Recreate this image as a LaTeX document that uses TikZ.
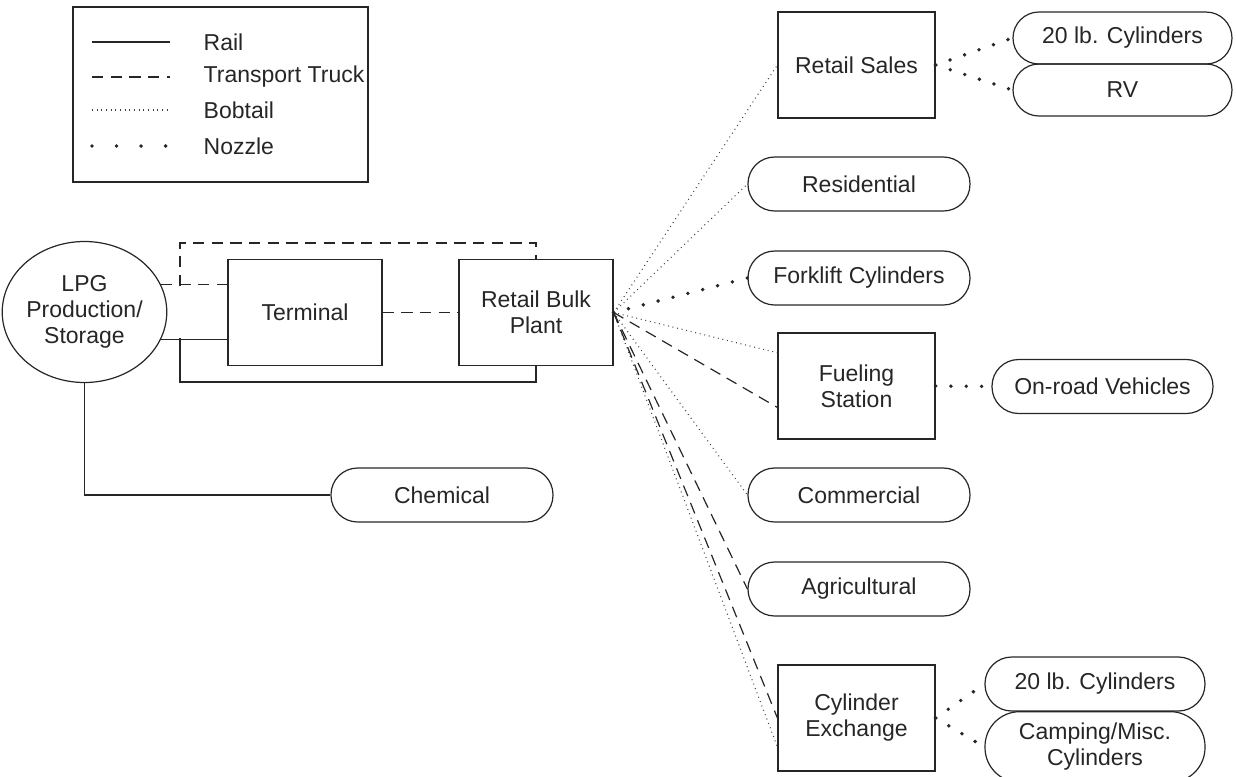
\documentclass[tikz,border=0pt]{standalone}
\usepackage{fontspec}
\setmainfont{Liberation Sans}
\tikzset{box/.style = {draw, line width = 0.9pt, minimum width = 117.75pt, minimum height = 79.5pt, align = center}}
\tikzset{pill/.style = {draw, rounded corners = 20pt, line width = 0.9pt, minimum width = 166.5pt, minimum height = 40.5pt, align = center}}
\tikzset{rail/.style = {line width = 0.9pt}}
\tikzset{truck/.style = {line width = 0.9pt, dash pattern = on 8.5pt off 5.5pt}}
\tikzset{bobtail/.style = {line width = 0.8pt, black!75, dash pattern = on 0.7pt off 2.8pt}}
\tikzset{nozzle/.style = {line width = 2.9pt, line cap = round, dash pattern = on 0pt off 11.5pt}}
\tikzset{keynozzle/.style = {nozzle, dash pattern = on 0pt off 18.4pt}}
\usetikzlibrary{calc,shapes.geometric}

\begin{document}
\begin{tikzpicture}[x = 0.75pt, y = -0.75pt, black!85, font = \fontsize{17.25pt}{19.5pt}\selectfont]
	\useasboundingbox (0,0) rectangle (1236,776);
	\draw [line width = 0.9pt] (73,7) rectangle (368,182);
	\foreach \s/\t/\y in {rail/Rail/42, truck/Transport Truck/77, bobtail/Bobtail/110, keynozzle/Nozzle/146} {
		\draw [\s] (92,\y) -- (170,\y);
		\node [anchor = west] (key\s) at (199,\y) {\t};
	}
	\node [draw, ellipse, line width = 0.9pt, inner sep = 0, minimum width = 116.25pt, minimum height = 105.75pt, align = center] (lpg) at (84.5,312) {LPG\\Production/\\Storage};
	\node [box, minimum width = 115.5pt] (terminal) at (305,312.5) {Terminal};
	\node [box, minimum width = 115.5pt] (bulk) at (536,312.5) {Retail Bulk\\Plant};
	\node [pill] (chem) at (442,495) {Chemical};
	\node [box] (sales) at (856.5,65) {Retail Sales};
	\node [pill, minimum width = 164.25pt, minimum height = 39pt, rounded corners = 19.5pt] (cyltop) at (1122.5,38) {20 lb. Cylinders};
	\node [pill, minimum width = 164.25pt, minimum height = 39pt, rounded corners = 19.5pt] (rv) at (1122.5,90) {RV};
	\node [pill] (resid) at (859,184) {Residential};
	\node [pill] (fork) at (859,278) {Forklift Cylinders};
	\node [box] (fuel) at (856.5,386) {Fueling\\Station};
	\node [pill, minimum width = 165.75pt] (onroad) at (1102.5,386.5) {On-road Vehicles};
	\node [pill] (comm) at (859,495) {Commercial};
	\node [pill] (agri) at (859,589) {Agricultural};
	\node [box] (exch) at (856.5,718) {Cylinder\\Exchange};
	\node [pill, minimum width = 165pt] (cylbot) at (1095,684) {20 lb. Cylinders};
	\node [pill, minimum width = 165pt, minimum height = 53pt, rounded corners = 26pt] (camp) at (1095,747) {Camping/Misc.\\Cylinders};
	\coordinate (rj) at (180,338);
	\coordinate (tj) at (180,286);
	\draw [rail] (lpg.-20) -- (lpg.-20 -| terminal.west);
	\draw [rail] (rj) -- ++(0,44) -| (bulk.south);
	\draw [rail] (lpg.south) |- (chem.west);
	\draw [truck] (lpg.20) -- (lpg.20 -| terminal.west);
	\draw [truck] (tj) -- ++(0,-43) -| (bulk.north);
	\draw [truck] (terminal) -- (bulk);
	\foreach \t in {sales, resid, comm}
		\draw [bobtail] (bulk.east) -- (\t.west);
	\draw [bobtail] (bulk.east) -- ($(fuel.south west)!0.81!(fuel.north west)$);
	\draw [bobtail] (bulk.east) -- ($(exch.south west)!0.23!(exch.north west)$);
	\draw [truck] (bulk.east) -- ($(fuel.south west)!0.3!(fuel.north west)$);
	\draw [truck] (bulk.east) -- (agri.west);
	\draw [truck] (bulk.east) -- (exch.west);
	\draw [nozzle] (bulk.east) -- (fork.west);
	\foreach \t in {cyltop, rv}
		\draw [nozzle] (sales.east) -- (\t.west);
	\draw [nozzle] (fuel.east) -- (onroad.west);
	\foreach \t in {cylbot, camp}
		\draw [nozzle] (exch.east) -- (\t.west);
\end{tikzpicture}
\end{document}
